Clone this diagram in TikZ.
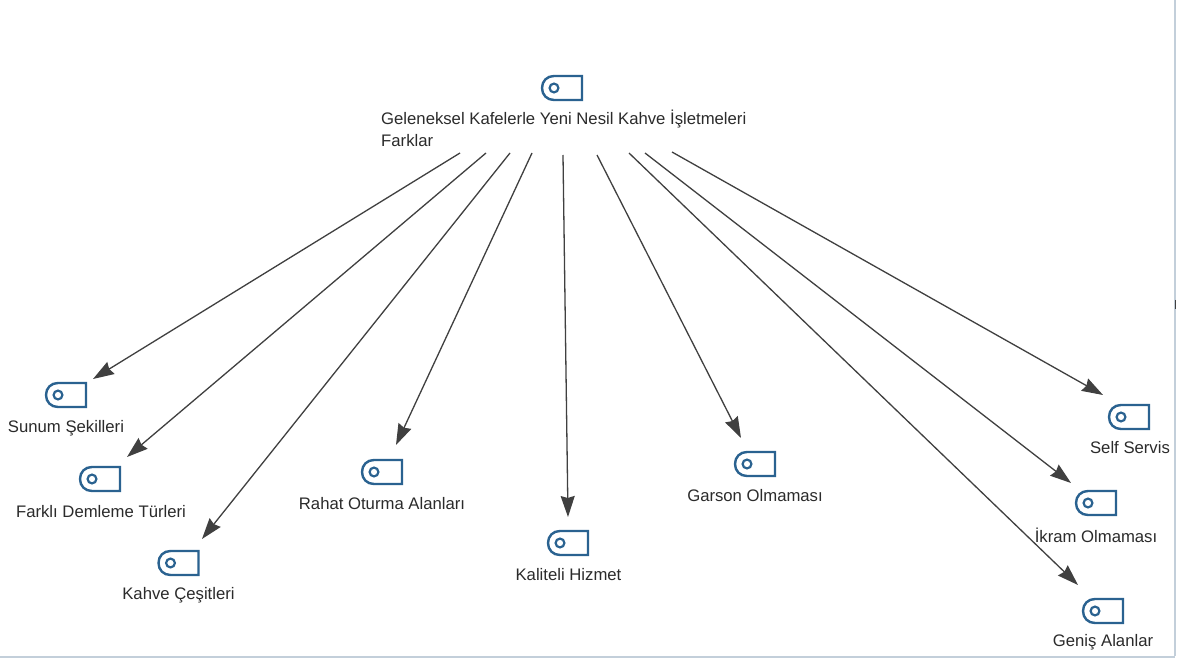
\documentclass[tikz,border=0pt]{standalone}
\usepackage{fontspec}
\setmainfont{Liberation Sans}
\usetikzlibrary{arrows.meta}
\definecolor{iconblue}{HTML}{2A6290}
\definecolor{txt}{HTML}{2B2B2B}
\definecolor{lnk}{HTML}{404040}
\definecolor{frameline}{HTML}{C3CFDA}
\tikzset{
  x=1pt,y=-1pt,
  iconbox/.style={inner sep=0pt,minimum width=41pt,minimum height=25pt},
  lbl/.style={font=\fontsize{16.7}{22}\selectfont,text=txt,inner sep=0pt},
  link/.style={draw=lnk,line width=1.3pt,-{Stealth[length=21pt,width=14pt,inset=2pt]}},
  edgeline/.style={draw=frameline,line width=1.4pt}
}
\newcommand{\tagicon}[3]{%
  \node[iconbox] (#3) at (#1,#2) {};
  \begin{scope}[shift={(#3.center)}]
  \draw[iconblue,line width=2.4pt,line join=miter]
    (-8,-12) -- (20,-12) -- (20,12) -- (-8,12)
    .. controls (-15,12) and (-20,7) .. (-20,0)
    .. controls (-20,-7) and (-15,-12) .. cycle;
  \draw[iconblue,line width=2.2pt] (-8,0) circle (4.4);
  \end{scope}
}
\begin{document}
\begin{tikzpicture}
\useasboundingbox (0,0) rectangle (1187,660);
\fill[white] (0,0) rectangle (1187,660);
\draw[edgeline] (1175,0) -- (1175,656) (0,657) -- (1175,657);
\draw[lnk,line width=1pt] (1175,300) -- (1175,309);
\tagicon{562}{88}{top}
\tagicon{66}{395}{a}
\tagicon{100}{479}{b}
\tagicon{178.5}{563}{c}
\tagicon{382}{472}{d}
\tagicon{568}{543}{e}
\tagicon{755}{464}{f}
\tagicon{1129}{417}{g}
\tagicon{1096}{503}{h}
\tagicon{1103}{611}{i}
\node[lbl,anchor=north west,align=left] (toplabel) at (381,110) {Geleneksel Kafelerle Yeni Nesil Kahve İşletmeleri\\Farklar};
\node[lbl] (la) at (66,428) {Sunum Şekilleri};
\node[lbl] (lb) at (101,512) {Farklı Demleme Türleri};
\node[lbl] (lc) at (178.5,595) {Kahve Çeşitleri};
\node[lbl] (ld) at (382,504) {Rahat Oturma Alanları};
\node[lbl] (le) at (568.5,575) {Kaliteli Hizmet};
\node[lbl] (lf) at (755,496) {Garson Olmaması};
\node[lbl] (lg) at (1130,448) {Self Servis};
\node[lbl] (lh) at (1096,535) {İkram Olmaması};
\node[lbl] (li) at (1103,642) {Geniş Alanlar};
\coordinate (sa) at (460,153); \coordinate (ta) at (93,379);
\coordinate (sb) at (486,153); \coordinate (tb) at (127,457);
\coordinate (sc) at (510,153); \coordinate (tc) at (202,539);
\coordinate (sd) at (532,153); \coordinate (td) at (396,445);
\coordinate (se) at (563,155); \coordinate (te) at (568,517);
\coordinate (sf) at (597,155); \coordinate (tf) at (741,438);
\coordinate (si) at (629,153); \coordinate (ti) at (1078,585);
\coordinate (sh) at (645,153); \coordinate (th) at (1071,483);
\coordinate (sg) at (672,152); \coordinate (tg) at (1103,395);
\foreach \p in {a,b,c,d,e,f,g,h,i} \draw[link] (s\p) -- (t\p);
\end{tikzpicture}
\end{document}
